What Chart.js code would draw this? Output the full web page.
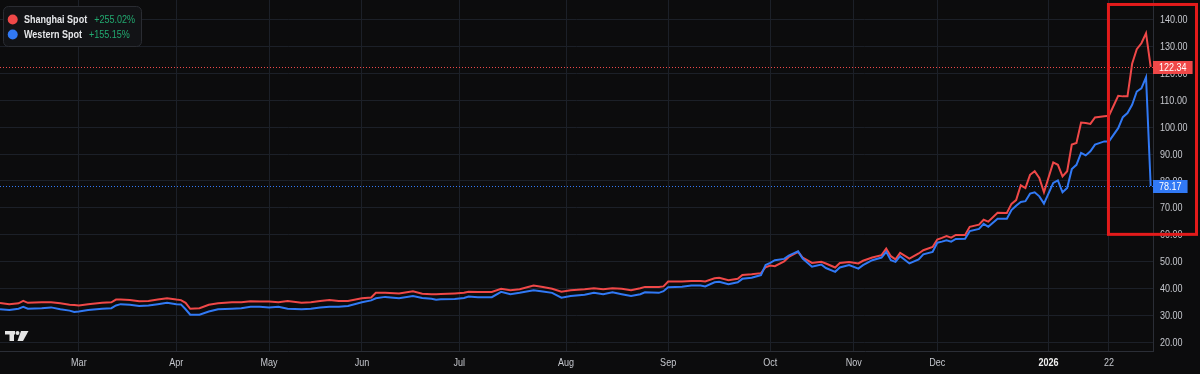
<!DOCTYPE html>
<html>
<head>
<meta charset="utf-8">
<script src="https://cdn.jsdelivr.net/npm/chart.js@4.4.1/dist/chart.umd.min.js"></script>
<style>
  html, body { margin: 0; padding: 0; background: #0c0c0d; overflow: hidden; }
  canvas { display: block; }
</style>
</head>
<body>
<canvas id="chart" width="1200" height="374"></canvas>
<script>
// trading-day index of each sample (0 = left edge of the picture)
const bars = [
  0, 2, 4, 5, 6, 9, 11, 13, 15, 16, 17, 19, 22, 24, 25, 26, 28, 30, 32, 34,
  36, 38, 39, 40, 41, 43, 45, 47, 50, 52, 54, 56, 58, 60, 62, 65, 67, 69, 71, 73,
  75, 78, 80, 81, 83, 86, 89, 91, 93, 94, 95, 98, 100, 101, 103, 106, 108, 110, 112, 115,
  117, 119, 121, 123, 126, 128, 130, 132, 134, 136, 138, 139, 142, 143, 144, 147, 149, 151, 152, 154,
  155, 157, 159, 160, 162, 164, 165, 166, 167, 169, 170, 172, 173, 175, 177, 178, 180, 181, 183, 185,
  186, 188, 190, 191, 192, 193, 194, 196, 198, 199, 201, 202, 203, 204, 205, 206, 208, 209, 211, 212,
  213, 215, 217, 218, 219, 220, 221, 222, 223, 224, 225, 227, 228, 229, 230, 231, 232, 233, 234, 235,
  236, 238, 239, 241, 242, 243, 244, 245, 246, 247, 248
];

const shanghai = [
  34.7, 34.3, 34.6, 35.5, 34.8, 35.0, 35.0, 34.6, 34.1, 34.0, 33.8, 34.3, 34.8, 35.0, 36.0, 36.0, 35.8, 35.4, 35.5, 36.0,
  36.5, 36.0, 35.8, 34.8, 32.6, 32.8, 34.1, 34.6, 35.0, 35.0, 35.4, 35.3, 35.3, 35.0, 35.5, 34.8, 35.0, 35.5, 35.8, 35.5,
  35.5, 36.5, 36.8, 38.5, 38.5, 38.3, 39.1, 38.2, 38.0, 38.0, 38.1, 38.3, 38.5, 38.9, 38.8, 38.8, 40.0, 39.5, 39.8, 41.2,
  40.7, 40.0, 38.9, 39.5, 39.8, 40.2, 39.8, 40.2, 40.0, 39.5, 40.2, 40.7, 40.7, 40.9, 42.7, 42.7, 42.9, 42.9, 42.7, 43.9,
  44.1, 43.2, 43.7, 45.1, 45.4, 45.8, 48.0, 48.6, 48.4, 50.2, 51.8, 53.7, 51.6, 49.6, 50.0, 49.4, 47.9, 49.6, 49.9, 49.4,
  50.4, 51.6, 52.5, 54.9, 52.1, 50.9, 53.3, 51.2, 53.1, 54.3, 55.5, 58.3, 58.9, 59.6, 59.0, 60.0, 60.0, 63.0, 63.8, 65.6,
  64.9, 68.2, 68.1, 71.5, 72.9, 78.4, 77.4, 82.3, 83.6, 81.1, 75.8, 86.9, 86.0, 81.7, 83.6, 93.5, 94.1, 101.7, 101.5, 101.2,
  103.6, 104.0, 104.2, 111.6, 111.4, 111.4, 123.5, 128.9, 131.1, 134.8, 122.34
];

const western = [
  32.4, 32.1, 32.6, 33.3, 32.6, 32.8, 33.1, 32.4, 31.9, 31.4, 31.6, 32.1, 32.6, 32.8, 33.8, 34.3, 34.1, 33.6, 33.8, 34.3,
  34.8, 34.3, 34.2, 32.4, 30.4, 30.4, 31.6, 32.4, 32.6, 32.8, 33.3, 33.3, 33.1, 33.3, 32.6, 32.4, 32.6, 33.1, 33.3, 33.3,
  33.6, 35.0, 35.7, 36.5, 37.0, 36.5, 37.3, 36.6, 36.3, 35.9, 36.1, 36.2, 36.6, 37.1, 36.9, 36.9, 38.9, 38.0, 38.5, 39.5,
  39.0, 38.5, 36.7, 37.3, 37.8, 38.5, 38.0, 38.7, 38.0, 37.3, 38.0, 38.7, 38.5, 39.1, 40.6, 40.8, 41.2, 41.2, 40.9, 42.4,
  42.6, 41.7, 42.4, 43.7, 44.1, 45.1, 48.8, 49.6, 50.6, 51.1, 52.3, 53.9, 51.2, 48.2, 49.0, 47.7, 46.3, 47.9, 48.8, 47.5,
  48.8, 50.6, 51.6, 53.7, 50.6, 50.0, 52.1, 49.4, 50.9, 52.8, 53.7, 57.1, 57.5, 58.0, 57.5, 58.5, 58.6, 61.4, 62.2, 64.1,
  63.0, 66.0, 66.0, 69.2, 70.8, 72.2, 72.5, 75.3, 75.8, 74.3, 71.6, 79.3, 80.2, 75.8, 77.4, 84.4, 86.0, 90.4, 89.5, 91.0,
  93.5, 94.7, 94.7, 99.6, 103.7, 105.2, 108.3, 113.2, 114.4, 118.5, 78.17
];

const seriesNames = ['Shanghai Spot', 'Western Spot'];
const seriesChange = ['+255.02%', '+155.15%'];

// first trading day of each labelled period
const monthIdx = [17, 38, 58, 78, 99, 122, 144, 166, 184, 202, 226, 239];
const monthLabels = ['Mar', 'Apr', 'May', 'Jun', 'Jul', 'Aug', 'Sep', 'Oct', 'Nov', 'Dec', '2026', '22'];
const yTicks = [20, 30, 40, 50, 60, 70, 80, 90, 100, 110, 120, 130, 140];

const RED = '#ef4848';
const BLUE = '#3179f5';
const GREEN = '#22a970';
const BG = '#0c0c0d';
const GRID = '#1c2028';
const AXIS_TEXT = '#c6c8ce';
const FONT = '"Liberation Sans", Arial, sans-serif';
const NARROW = 0.82; // the reference text is set in a condensed face

const toPoints = (vals) => vals.map((v, i) => ({ x: bars[i], y: v }));

// condensed text: squeeze a regular face horizontally
function narrowText(ctx, text, x, y, align) {
  ctx.save();
  ctx.translate(x, y);
  ctx.scale(NARROW, 1);
  ctx.textAlign = align;
  ctx.fillText(text, 0, 0);
  const w = ctx.measureText(text).width * NARROW;
  ctx.restore();
  return w;
}

const background = {
  id: 'background',
  beforeDraw(chart) {
    const { ctx, width, height } = chart;
    ctx.save();
    ctx.fillStyle = BG;
    ctx.fillRect(0, 0, width, height);
    ctx.restore();
  },
};

// dotted last-value lines behind the series
const lastLines = {
  id: 'lastLines',
  beforeDatasetsDraw(chart) {
    const { ctx, chartArea, scales } = chart;
    ctx.save();
    ctx.lineWidth = 1;
    ctx.setLineDash([1, 2]);
    chart.data.datasets.forEach((ds) => {
      const last = ds.data[ds.data.length - 1].y;
      const y = Math.round(scales.y.getPixelForValue(last)) + 0.5;
      ctx.strokeStyle = ds.borderColor;
      ctx.beginPath();
      ctx.moveTo(chartArea.left, y);
      ctx.lineTo(chartArea.right, y);
      ctx.stroke();
    });
    ctx.restore();
  },
};

const overlay = {
  id: 'overlay',
  afterDraw(chart) {
    const { ctx, chartArea, scales } = chart;
    ctx.save();
    ctx.textBaseline = 'middle';

    // axis labels
    ctx.fillStyle = AXIS_TEXT;
    ctx.font = '11px ' + FONT;
    yTicks.forEach((v) => {
      narrowText(ctx, v.toFixed(2), chartArea.right + 7, scales.y.getPixelForValue(v) + 0.5, 'left');
    });
    monthIdx.forEach((v, i) => {
      const bold = monthLabels[i] === '2026';
      ctx.font = (bold ? 'bold ' : '') + '11px ' + FONT;
      ctx.fillStyle = bold ? '#f0f0f0' : AXIS_TEXT;
      narrowText(ctx, monthLabels[i], scales.x.getPixelForValue(v), chartArea.bottom + 11.5, 'center');
    });

    // last-value tags on the price axis
    ctx.font = '11px ' + FONT;
    chart.data.datasets.forEach((ds) => {
      const last = ds.data[ds.data.length - 1].y;
      const y = Math.round(scales.y.getPixelForValue(last));
      const txt = last.toFixed(2);
      const w = ctx.measureText(txt).width * NARROW + 12;
      ctx.fillStyle = ds.borderColor;
      ctx.fillRect(chartArea.right, y - 6, w, 13);
      ctx.fillStyle = '#ffffff';
      narrowText(ctx, txt, chartArea.right + 6, y + 0.5, 'left');
    });

    // legend
    const lx = 3, ly = 6, lw = 138, lh = 40;
    ctx.beginPath();
    ctx.roundRect(lx + 0.5, ly + 0.5, lw, lh, 5);
    ctx.fillStyle = '#121316';
    ctx.fill();
    ctx.strokeStyle = '#2a2c32';
    ctx.lineWidth = 1;
    ctx.stroke();
    const rowY = [19.5, 34.5];
    const colors = [RED, BLUE];
    seriesNames.forEach((name, i) => {
      ctx.beginPath();
      ctx.arc(12.7, rowY[i], 5, 0, Math.PI * 2);
      ctx.fillStyle = colors[i];
      ctx.fill();
      ctx.font = 'bold 11px ' + FONT;
      ctx.fillStyle = '#e6e7ea';
      const nw = narrowText(ctx, name, 24, rowY[i] + 0.5, 'left');
      ctx.font = '11px ' + FONT;
      ctx.fillStyle = GREEN;
      narrowText(ctx, seriesChange[i], 24 + nw + 7, rowY[i] + 0.5, 'left');
    });

    // red highlight frame around the latest move
    const bx1 = scales.x.getPixelForValue(238.9);
    const bx2 = chart.width - 3.5;
    const by1 = scales.y.getPixelForValue(145.5);
    const by2 = scales.y.getPixelForValue(60.2);
    ctx.strokeStyle = '#e31b1b';
    ctx.lineWidth = 3;
    ctx.strokeRect(bx1, by1, bx2 - bx1, by2 - by1);

    // watermark logo
    const b = chartArea.bottom;
    ctx.fillStyle = '#e4e4e4';
    ctx.fillRect(5, b - 20, 10, 3.5);
    ctx.fillRect(9.5, b - 20, 4.5, 10);
    ctx.beginPath();
    ctx.arc(17.5, b - 18, 2, 0, Math.PI * 2);
    ctx.fill();
    ctx.beginPath();
    ctx.moveTo(21, b - 20);
    ctx.lineTo(28.5, b - 20);
    ctx.lineTo(23, b - 10);
    ctx.lineTo(17.5, b - 10);
    ctx.closePath();
    ctx.fill();

    ctx.restore();
  },
};

new Chart(document.getElementById('chart').getContext('2d'), {
  type: 'line',
  data: {
    datasets: [
      {
        label: seriesNames[1],
        data: toPoints(western),
        borderColor: BLUE,
        borderWidth: 2,
        pointRadius: 0,
        tension: 0,
      },
      {
        label: seriesNames[0],
        data: toPoints(shanghai),
        borderColor: RED,
        borderWidth: 2,
        pointRadius: 0,
        tension: 0,
      },
    ],
  },
  options: {
    responsive: false,
    animation: false,
    devicePixelRatio: 1,
    layout: { padding: 0 },
    plugins: {
      legend: { display: false },
      tooltip: { enabled: false },
    },
    scales: {
      x: {
        type: 'linear',
        min: 0,
        max: 248.5,
        afterBuildTicks: (s) => { s.ticks = monthIdx.map((v) => ({ value: v })); },
        afterFit: (s) => { s.height = 23; s.paddingLeft = 0; s.paddingRight = 0; },
        grid: { color: GRID, drawTicks: false },
        border: { color: '#2b2e36' },
        ticks: { display: false },
      },
      y: {
        position: 'right',
        min: 16.92,
        max: 147.16,
        afterBuildTicks: (s) => { s.ticks = yTicks.map((v) => ({ value: v })); },
        afterFit: (s) => { s.width = 47; s.paddingTop = 0; s.paddingBottom = 0; },
        grid: { color: GRID, drawTicks: false },
        border: { color: '#2b2e36' },
        ticks: { display: false },
      },
    },
  },
  plugins: [background, lastLines, overlay],
});
</script>
</body>
</html>
